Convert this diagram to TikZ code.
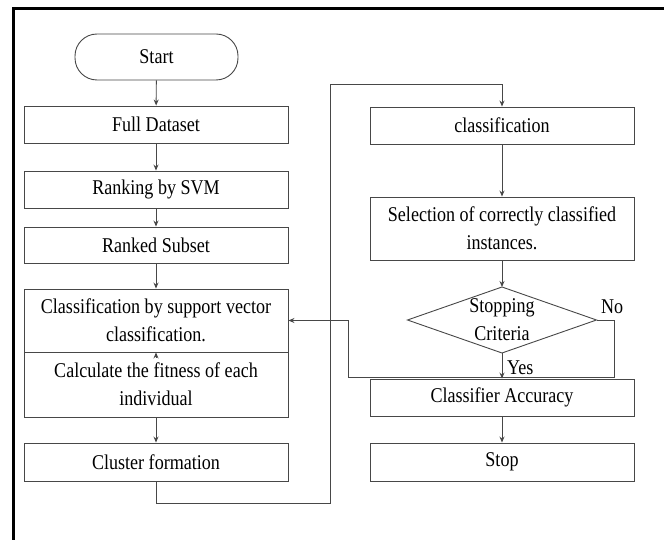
\documentclass[tikz,border=0pt]{standalone}
\usepackage{fontspec}
\setmainfont{Liberation Serif}[FakeStretch=0.86]
\usetikzlibrary{arrows.meta,calc}
\begin{document}
\begin{tikzpicture}[x=1pt,y=-1pt,
  lin/.style={draw=black!72,line width=0.9pt},
  arr/.style={lin,-{Stealth[length=6pt,width=5pt]}},
  box/.style={lin,rectangle,minimum width=264pt,inner sep=0pt,align=center,
     font=\fontsize{21}{28}\selectfont},
  term/.style={box,minimum width=163pt,minimum height=46pt,rounded corners=22pt},
  lbl/.style={inner sep=0pt,font=\fontsize{21}{28}\selectfont}]
\useasboundingbox (0,0) rectangle (664,540);
% outer frame
\draw[line width=2.6pt,black] (13.3,540) -- (13.3,8.5) -- (664,8.5);
% left column
\node[term] (start) at (156.5,57) {Start};
\node[box,minimum height=37pt] (full) at (156,124.5) {Full Dataset};
\node[box,minimum height=37pt] (rank) at (156,189.5) {Ranking by SVM};
\node[box,minimum height=36pt] (sub) at (156,245) {Ranked Subset};
\node[box,minimum height=63pt] (cls) at (156,320.5) {Classification by support vector\\classification.};
\node[box,minimum height=65pt] (fit) at (156,384.5) {Calculate the fitness of each\\individual};
\node[box,minimum height=38pt] (clu) at (156,462) {Cluster formation};
% right column
\node[box,minimum height=37pt] (classif) at (502,125.5) {classification};
\node[box,minimum height=63pt] (sel) at (502,228.5) {Selection of correctly classified\\instances.};
\node[lbl,align=center] (crit) at (502,320) {Stopping\\Criteria};
\coordinate (critN) at (502,287);
\coordinate (critS) at (502,353);
\coordinate (critE) at (596.5,320);
\coordinate (critW) at (407.5,320);
\draw[lin] (critN) -- (critE) -- (critS) -- (critW) -- cycle;
\node[box,minimum height=37pt] (acc) at (502,397.5) {Classifier Accuracy};
\node[box,minimum height=38pt] (stop) at (502,462) {Stop};
% connectors
\draw[arr] (start) -- (full);
\draw[arr] (full) -- (rank);
\draw[arr] (rank) -- (sub);
\draw[arr] (sub) -- (cls);
\draw[arr] ($(fit.north)+(0,6)$) -- (cls.south);
\draw[arr] (fit) -- (clu);
\coordinate (c1) at (156,503);
\coordinate (c2) at (330,503);
\coordinate (c3) at (330,84);
\coordinate (c4) at (502,84);
\draw[arr] (clu.south) -- (c1) -- (c2) -- (c3) -- (c4) -- (classif.north);
\draw[arr] (classif) -- (sel);
\draw[arr] (sel.south) -- (critN);
\draw[arr] (critS) -- (acc.north);
\draw[arr] (acc) -- (stop);
\node[lbl,anchor=west] (yes) at (507,368) {Yes};
\coordinate (n1) at (614,320);
\coordinate (n2) at (614,377);
\coordinate (n3) at (348,377);
\coordinate (n4) at (348,320.5);
\draw[arr] (critE) -- (n1) -- (n2) -- (n3) -- (n4) -- (cls.east);
\node[lbl,anchor=west] (no) at (601,307) {No};
\end{tikzpicture}
\end{document}
